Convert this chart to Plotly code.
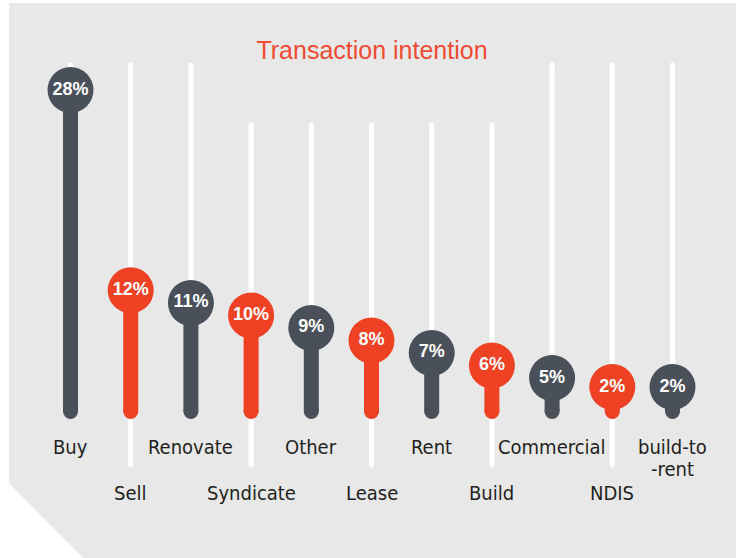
import plotly.graph_objects as go

# data
categories = ["Buy", "Sell", "Renovate", "Syndicate", "Other", "Lease",
              "Rent", "Build", "Commercial", "NDIS", "build-to\n-rent"]
shares = [28, 12, 11, 10, 9, 8, 7, 6, 5, 2, 2]
share_labels = [f"{v}%" for v in shares]

# styling
W, H = 736, 558
DARK = "#4a5059"
RED = "#ef4124"
BG = "#e8e8e8"
TEXT = "#231f20"
colors = [DARK if i % 2 == 0 else RED for i in range(len(shares))]

# pixel <-> axis mapping (margins are zero, so axis fills the page)
X0, DX = 70.5, 60.2     # x pixel of first column, column spacing
Y0, DY = 440.6, 12.52   # y pixel of 0%, pixels per percent


def val(py):
    """pixel row -> y axis value"""
    return (Y0 - py) / DY


MIN_SHOWN = val(387)          # small values are lifted so the bubble clears the base
BAR_BASE = val(411.5)         # centre of the rounded foot of each stem
track_top = [65, 65, 65, 125, 125, 125, 125, 125, 65, 65, 65]
track_bottom = [411 if i % 2 == 0 else 465 for i in range(len(shares))]
label_row = [447 if i % 2 == 0 else 493 for i in range(len(shares))]

fig = go.Figure()

# white guide tracks
tx, ty = [], []
for i in range(len(shares)):
    tx += [i, i, None]
    ty += [val(track_top[i]), val(track_bottom[i]), None]
fig.add_trace(go.Scatter(x=tx, y=ty, mode="lines",
                         line=dict(color="white", width=5),
                         hoverinfo="skip", showlegend=False))
fig.add_trace(go.Scatter(
    x=list(range(len(shares))) * 2,
    y=[val(p) for p in track_top] + [val(p) for p in track_bottom],
    mode="markers", marker=dict(size=5, color="white"),
    hoverinfo="skip", showlegend=False))

# coloured stems
shown = [max(v, MIN_SHOWN) for v in shares]
for i, v in enumerate(shown):
    fig.add_trace(go.Scatter(x=[i, i], y=[BAR_BASE, v], mode="lines",
                             line=dict(color=colors[i], width=15),
                             hoverinfo="skip", showlegend=False))
fig.add_trace(go.Scatter(
    x=list(range(len(shares))), y=[BAR_BASE] * len(shares), mode="markers",
    marker=dict(size=15, color=colors, line=dict(width=0)),
    hoverinfo="skip", showlegend=False))

# bubbles with values
fig.add_trace(go.Scatter(
    x=list(range(len(shares))), y=shown, mode="markers+text",
    marker=dict(size=46, color=colors, line=dict(width=0)),
    text=share_labels, textposition="middle center",
    textfont=dict(family="Liberation Sans, Arial, sans-serif", size=18,
                  color="white", weight="bold"),
    hovertext=[f"{c.replace(chr(10), '')}: {l}" for c, l in zip(categories, share_labels)],
    hoverinfo="text", showlegend=False))

# category labels
annotations = []
for i, name in enumerate(categories):
    for k, line in enumerate(name.split("\n")):
        annotations.append(dict(
            x=i, y=val(label_row[i]), xref="x", yref="y",
            text=line, showarrow=False, yanchor="middle", yshift=-22 * k,
            font=dict(family="DejaVu Sans Condensed, sans-serif",
                      size=20, color=TEXT)))


def px(x):
    return x / W


def py(y):
    return 1 - y / H


panel = (f"M {px(9)},{py(3)} L {px(736)},{py(3)} L {px(736)},{py(558)} "
         f"L {px(83)},{py(558)} L {px(9)},{py(483)} Z")

fig.update_layout(
    width=W, height=H,
    margin=dict(l=0, r=0, t=0, b=0),
    paper_bgcolor="white", plot_bgcolor="rgba(0,0,0,0)",
    title=dict(text="Transaction intention", x=372 / W, y=py(50),
               xanchor="center", yanchor="middle",
               font=dict(family="Liberation Sans, Arial, sans-serif",
                         size=25, color="#ef4b32")),
    xaxis=dict(range=[-X0 / DX, (W - X0) / DX], visible=False, fixedrange=True),
    yaxis=dict(range=[val(H), val(0)], visible=False, fixedrange=True),
    shapes=[dict(type="path", path=panel, xref="paper", yref="paper",
                 fillcolor=BG, line=dict(width=0), layer="below")],
    annotations=annotations,
    showlegend=False,
)

# drop the browser's default body margin so the figure sits at the page origin
fig.write_html("out.html", config={"displayModeBar": False},
               post_script="document.body.style.margin='0';")
